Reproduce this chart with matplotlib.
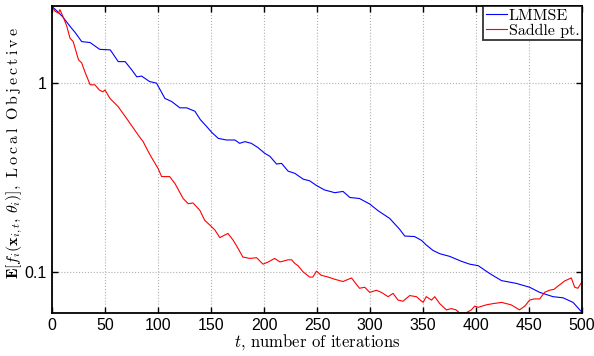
import matplotlib
matplotlib.use("Agg")
import matplotlib.pyplot as plt
import numpy as np

plt.rcParams['mathtext.fontset'] = 'cm'

# LMMSE curve (iteration, objective)
lmmse_t = [0, 5, 10, 17, 22, 28, 36, 45, 55, 62.5, 69, 75, 80, 84.5, 92, 98.6, 106.5, 112.8,
           120.6, 127, 134.8, 140, 145.8, 150.5, 156.8, 164.5, 172.5, 177, 182, 188, 194,
           200.7, 205.5, 211.8, 216.5, 222.7, 229, 237, 243, 249.5, 257, 266.7, 274.5, 281,
           290, 299.7, 307.6, 318.6, 328, 332.7, 342, 348.5, 353, 359.4, 365.7, 375, 386,
           394, 402, 413, 424, 438, 450.5, 460, 472.5, 482, 491.5, 500]
lmmse_v = [2.55, 2.4, 2.25, 2.0, 1.85, 1.66, 1.64, 1.51, 1.50, 1.30, 1.30, 1.18, 1.08, 1.09,
           1.02, 1.0, 0.83, 0.80, 0.74, 0.74, 0.71, 0.64, 0.59, 0.55, 0.51, 0.50, 0.50, 0.48,
           0.49, 0.48, 0.457, 0.425, 0.41, 0.373, 0.376, 0.342, 0.333, 0.31, 0.304, 0.287,
           0.272, 0.263, 0.267, 0.248, 0.245, 0.229, 0.211, 0.192, 0.168, 0.155, 0.154,
           0.147, 0.139, 0.130, 0.125, 0.121, 0.114, 0.110, 0.108, 0.098, 0.090, 0.087,
           0.083, 0.078, 0.074, 0.073, 0.069, 0.061]

# Saddle point curve (iteration, objective)
saddle_t = [0, 3, 6, 7.5, 11, 14, 17, 20, 25, 28, 31, 36, 40.5, 44.6, 48, 50, 54.7, 62.5,
            70.4, 76.6, 81.4, 86, 90.8, 95.5, 100, 103.4, 111, 116, 123.7, 128.5, 133,
            139.5, 144, 149, 153.6, 158.3, 163, 166, 171, 175.6, 180, 186.6, 193, 199, 204,
            210, 215, 222.7, 226, 229, 232, 237, 243, 246, 249.5, 254, 260.5, 266.7, 274.5,
            282.5, 290, 295, 299.7, 306, 310.7, 317, 321.7, 326.4, 331, 337.4, 343.7, 350,
            353, 358, 361, 365.7, 372, 376.7, 381, 384.5, 391, 395.5, 398.7, 402, 409.7,
            416, 424, 428.5, 433, 441, 446, 450.5, 455, 460, 464.6, 469, 473.6, 477, 483.5,
            489.8, 493, 496, 500]
saddle_v = [2.55, 2.4, 2.35, 2.45, 2.21, 2.0, 1.73, 1.66, 1.33, 1.28, 1.15, 0.98, 0.98, 0.92,
            0.90, 0.92, 0.83, 0.75, 0.65, 0.58, 0.53, 0.49, 0.434, 0.39, 0.354, 0.32, 0.32,
            0.294, 0.245, 0.23, 0.232, 0.212, 0.188, 0.177, 0.167, 0.152, 0.157, 0.16,
            0.147, 0.133, 0.12, 0.118, 0.119, 0.11, 0.113, 0.118, 0.113, 0.116, 0.116,
            0.111, 0.108, 0.10, 0.094, 0.094, 0.101, 0.096, 0.094, 0.0915, 0.089, 0.093,
            0.082, 0.083, 0.078, 0.080, 0.078, 0.074, 0.077, 0.071, 0.070, 0.075, 0.074,
            0.069, 0.074, 0.071, 0.074, 0.068, 0.063, 0.064, 0.063, 0.0607, 0.061, 0.063,
            0.066, 0.065, 0.067, 0.068, 0.069, 0.068, 0.067, 0.063, 0.066, 0.071, 0.072,
            0.072, 0.078, 0.080, 0.081, 0.084, 0.0896, 0.093, 0.083, 0.082, 0.089]

x_ticks = [0, 50, 100, 150, 200, 250, 300, 350, 400, 450, 500]
y_ticks = [0.1, 1]
y_tick_labels = ['0.1', '1']

fig = plt.figure(figsize=(5.94, 3.56), dpi=100)
ax = fig.add_axes([0.0875, 0.121, 0.8925, 0.862])

ax.plot(lmmse_t, lmmse_v, color='#0000ff', lw=0.8, label='LMMSE')
ax.plot(saddle_t, saddle_v, color='#ff0000', lw=0.8, label='Saddle pt.')

ax.set_yscale('log')
ax.set_xlim(0, 500)
ax.set_ylim(0.0607, 2.56)
ax.set_xticks(x_ticks)
ax.set_yticks(y_ticks)
ax.set_yticklabels(y_tick_labels)
ax.yaxis.set_minor_locator(matplotlib.ticker.NullLocator())

for lbl in ax.get_xticklabels() + ax.get_yticklabels():
    lbl.set_fontfamily('Liberation Sans')
    lbl.set_fontsize(11.5)

ax.tick_params(direction='in', top=True, right=True, length=4, width=1, pad=4)
ax.grid(True, which='major', linestyle=':', color='#b0b0b0', lw=0.8)
for s in ax.spines.values():
    s.set_linewidth(1.3)

ax.set_xlabel(r'$t$, number of iterations', fontsize=12, fontname='cmr10', labelpad=-1)
ax.set_ylabel(r'$\mathbf{E}[f_i(\mathbf{x}_{i,t},\,\theta_i)],\ '
              r'\mathrm{L\:o\:c\:a\:l\;\;O\:b\:j\:e\:c\:t\:i\:v\:e}$',
              fontsize=11.5)
ax.yaxis.set_label_coords(-0.05, 0.52)

leg = ax.legend(loc='upper right', frameon=True, fancybox=False,
                borderpad=0.15, handlelength=1.3, handletextpad=0.15, labelspacing=0.05,
                borderaxespad=0.0, prop={'family': 'cmr10', 'size': 11.5})
leg.get_frame().set_edgecolor('black')
leg.get_frame().set_linewidth(1.3)

fig.savefig('out.png', dpi=100)
